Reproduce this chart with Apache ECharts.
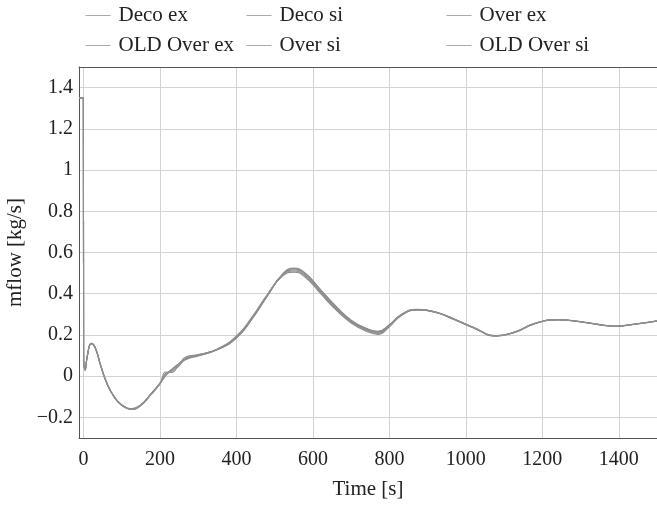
<!DOCTYPE html>
<html>
<head>
<meta charset="utf-8">
<script src="https://cdn.jsdelivr.net/npm/echarts@6/dist/echarts.min.js"></script>
<style>html,body{margin:0;padding:0;background:#fff}#c{width:657px;height:505px}</style>
</head>
<body>
<div id="c"></div>
<script>
var seriesNames = ['Deco ex', 'Deco si', 'Over ex', 'OLD Over ex', 'Over si', 'OLD Over si'];
var time = [-12, -0.5, 0, 4, 10, 20, 30, 45, 60, 80, 100, 125, 150, 175, 200, 215, 230, 250, 270, 300, 350, 400, 440, 480, 520, 550, 580, 620, 660, 700, 740, 770, 800, 830, 870, 920, 970, 1020, 1080, 1130, 1180, 1240, 1300, 1350, 1390, 1440, 1500];
var decoEx =    [1.35, 1.35, 0.11, 0.03, 0.10, 0.158, 0.14, 0.05, -0.03, -0.10, -0.14, -0.16, -0.14, -0.09, -0.035, 0.005, 0.03, 0.06, 0.085, 0.10, 0.13, 0.19, 0.28, 0.39, 0.49, 0.515, 0.49, 0.41, 0.33, 0.265, 0.225, 0.21, 0.245, 0.295, 0.322, 0.31, 0.275, 0.235, 0.195, 0.215, 0.255, 0.274, 0.264, 0.25, 0.242, 0.252, 0.268];
var decoSi =    [1.35, 1.35, 0.11, 0.03, 0.10, 0.160, 0.142, 0.052, -0.028, -0.10, -0.142, -0.162, -0.142, -0.092, -0.037, 0.003, 0.028, 0.058, 0.082, 0.098, 0.128, 0.185, 0.275, 0.39, 0.495, 0.525, 0.50, 0.42, 0.34, 0.272, 0.232, 0.218, 0.25, 0.298, 0.324, 0.312, 0.277, 0.237, 0.197, 0.216, 0.256, 0.275, 0.265, 0.251, 0.243, 0.253, 0.269];
var overEx =    [1.35, 1.35, 0.11, 0.03, 0.10, 0.156, 0.138, 0.048, -0.032, -0.102, -0.14, -0.158, -0.138, -0.088, -0.033, 0.007, 0.032, 0.062, 0.087, 0.102, 0.132, 0.195, 0.285, 0.395, 0.485, 0.505, 0.48, 0.40, 0.322, 0.258, 0.218, 0.203, 0.24, 0.292, 0.32, 0.309, 0.274, 0.234, 0.194, 0.214, 0.254, 0.273, 0.263, 0.249, 0.241, 0.251, 0.267];
var oldOverEx = [1.35, 1.35, 0.11, 0.03, 0.10, 0.158, 0.14, 0.05, -0.03, -0.10, -0.14, -0.16, -0.14, -0.09, -0.035, 0.02, 0.018, 0.06, 0.095, 0.103, 0.13, 0.188, 0.278, 0.388, 0.49, 0.52, 0.495, 0.415, 0.335, 0.268, 0.228, 0.214, 0.248, 0.296, 0.323, 0.311, 0.276, 0.236, 0.196, 0.215, 0.255, 0.274, 0.264, 0.25, 0.242, 0.252, 0.268];
var overSi =    [1.35, 1.35, 0.11, 0.03, 0.10, 0.157, 0.139, 0.049, -0.031, -0.101, -0.141, -0.159, -0.139, -0.089, -0.034, 0.006, 0.031, 0.061, 0.086, 0.101, 0.131, 0.192, 0.282, 0.392, 0.488, 0.51, 0.485, 0.405, 0.326, 0.262, 0.222, 0.207, 0.243, 0.294, 0.321, 0.31, 0.275, 0.235, 0.195, 0.215, 0.255, 0.274, 0.264, 0.25, 0.242, 0.252, 0.268];
var oldOverSi = [1.35, 1.35, 0.11, 0.03, 0.10, 0.159, 0.141, 0.051, -0.029, -0.10, -0.141, -0.161, -0.141, -0.091, -0.036, 0.015, 0.022, 0.05, 0.092, 0.105, 0.129, 0.186, 0.276, 0.386, 0.492, 0.522, 0.498, 0.418, 0.338, 0.27, 0.23, 0.216, 0.249, 0.297, 0.323, 0.311, 0.276, 0.236, 0.196, 0.215, 0.255, 0.274, 0.264, 0.25, 0.242, 0.252, 0.268];
var values = [decoEx, decoSi, overEx, oldOverEx, overSi, oldOverSi];

var FONT = 'Liberation Serif';
var chart = echarts.init(document.getElementById('c'), null, {renderer: 'canvas'});
function pairs(v) { return time.map(function (t, i) { return [t, v[i]]; }); }
function legend(left, data) {
  return {
    orient: 'vertical', left: left, top: 5, padding: 0, itemWidth: 25, itemHeight: 20, itemGap: 9,
    textStyle: {fontFamily: FONT, fontSize: 21, color: '#222', padding: [0, 0, 0, 3]},
    lineStyle: {color: '#aaa', width: 1},
    itemStyle: {opacity: 0},
    data: data
  };
}
chart.setOption({
  animation: false,
  backgroundColor: '#fff',
  legend: [
    legend(85, ['Deco ex', 'OLD Over ex']),
    legend(246, ['Deco si', 'Over si']),
    legend(446, ['Over ex', 'OLD Over si'])
  ],
  grid: {left: 79, right: 0, top: 67, bottom: 67, containLabel: false, outerBoundsMode: 'none'},
  xAxis: [{
    type: 'value', min: -12, max: 1500, splitNumber: 8,
    name: 'Time [s]', nameLocation: 'middle', nameGap: 41,
    nameTextStyle: {fontFamily: FONT, fontSize: 21, color: '#222'},
    axisLine: {show: true, onZero: false, lineStyle: {color: '#555', width: 1}},
    axisTick: {show: false},
    axisLabel: {fontFamily: FONT, fontSize: 20, color: '#222', margin: 12, showMinLabel: false, showMaxLabel: false,
      formatter: function (v) { return (Math.round(v) % 200 === 0) ? String(Math.round(v)) : ''; }},
    splitLine: {show: true, showMinLine: false, showMaxLine: false, lineStyle: {color: '#d3d3d3', width: 1}}
  }, {
    type: 'value', position: 'top', min: -12, max: 1500,
    axisLine: {show: true, onZero: false, lineStyle: {color: '#555', width: 1}},
    axisTick: {show: false}, axisLabel: {show: false}, splitLine: {show: false}
  }],
  yAxis: {
    type: 'value', min: -0.3, max: 1.5, splitNumber: 9,
    name: 'mflow [kg/s]', nameLocation: 'middle', nameGap: 43, nameRotate: 90,
    nameTextStyle: {fontFamily: FONT, fontSize: 21, color: '#222'},
    axisLine: {show: true, onZero: false, lineStyle: {color: '#555', width: 1}},
    axisTick: {show: false},
    axisLabel: {fontFamily: FONT, fontSize: 20, color: '#222', margin: 6, showMinLabel: false, showMaxLabel: false,
      formatter: function (v) { return (v < 0 ? '\u2212' : '') + String(Math.round(Math.abs(v) * 10) / 10); }},
    splitLine: {show: true, showMinLine: false, showMaxLine: false, lineStyle: {color: '#d3d3d3', width: 1}}
  },
  series: seriesNames.map(function (n, i) {
    return {
      name: n, type: 'line', data: pairs(values[i]), xAxisIndex: 0,
      showSymbol: false, symbol: 'none', smooth: 0.5,
      lineStyle: {color: '#8e8e8e', width: 1.1},
      itemStyle: {color: '#8e8e8e'}
    };
  })
});
</script>
</body>
</html>
